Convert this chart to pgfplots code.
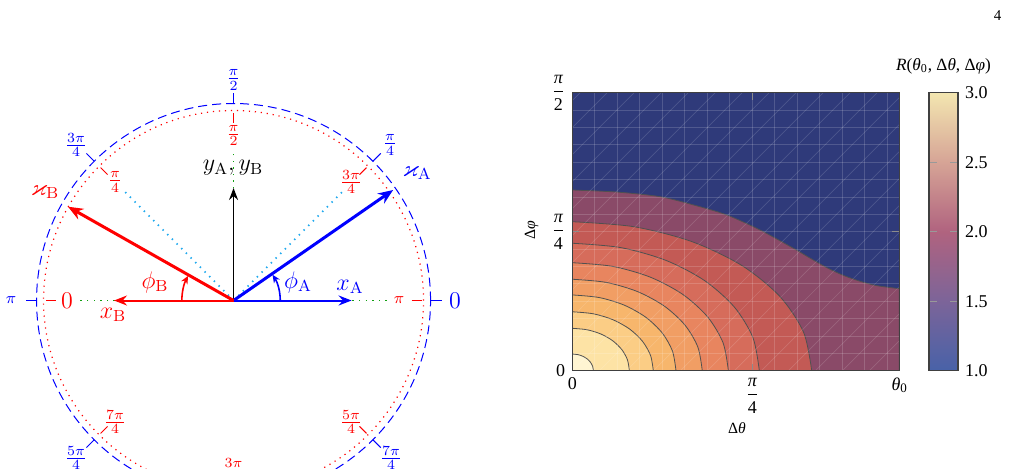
\documentclass[border=0pt]{standalone}
\usepackage{amssymb}
\usepackage{fontspec}
\usepackage{pgfplots}
\pgfplotsset{compat=1.18}
\usetikzlibrary{arrows.meta}
\newfontfamily\timesf{Liberation Serif}
\newcommand\rf{\timesf\fontsize{9}{10.5}\selectfont}
\newcommand\rfs{\timesf\fontsize{7.8}{9}\selectfont}
\newcommand\lf{\fontsize{11.5}{13.5}\selectfont}
\newcommand\lff{\fontsize{10.4}{12}\selectfont}
\newcommand\lpi{\fontsize{8.2}{9}\selectfont}
\newcommand\fr[2]{$\displaystyle\frac{\mbox{\rf #1}}{\mbox{\rf #2}}$}
\definecolor{cblue}{HTML}{2F3A7A}
\definecolor{cpurple}{HTML}{8A4A68}
\definecolor{bA}{HTML}{C35A55}
\definecolor{bB}{HTML}{D66C5B}
\definecolor{bC}{HTML}{E8855F}
\definecolor{bD}{HTML}{F19E64}
\definecolor{bE}{HTML}{F7B66C}
\definecolor{bF}{HTML}{FBCD85}
\definecolor{bG}{HTML}{FDE3A5}
\definecolor{bH}{HTML}{FFF5D2}
\definecolor{cline}{HTML}{505050}
\definecolor{gdot}{HTML}{12A012}
\definecolor{cdot}{HTML}{22AAEE}
\begin{document}
\begin{tikzpicture}[x=0.5pt,y=0.5pt]
\path[use as bounding box] (0,0) rectangle (1010,468);
\node[font=\timesf\fontsize{7.5}{8}\selectfont] at (997.5,452) {4};

% ---------------- left diagram ----------------
\begin{axis}[at={(0pt,0pt)}, anchor=south west, scale only axis,
  width=242.5pt, height=234pt,
  xmin=-233.5, xmax=251.5, ymin=-167.5, ymax=300.5, hide axis]
\draw[blue, line width=0.5pt, dash pattern=on 4.5pt off 2.5pt] (axis cs:0,0) circle[radius=98.5pt];
\draw[red, line width=0.6pt, dash pattern=on 0.6pt off 2.4pt] (axis cs:0,0) circle[radius=95pt];
% blue ticks
\addplot[blue, line width=0.5pt] coordinates {(197,0) (208,0)};
\addplot[blue, line width=0.5pt] coordinates {(139.3,139.3) (147.1,147.1)};
\addplot[blue, line width=0.5pt] coordinates {(0,197) (0,208)};
\addplot[blue, line width=0.5pt] coordinates {(-139.3,139.3) (-147.1,147.1)};
\addplot[blue, line width=0.5pt] coordinates {(-197,0) (-208,0)};
\addplot[blue, line width=0.5pt] coordinates {(-139.3,-139.3) (-147.1,-147.1)};
\addplot[blue, line width=0.5pt] coordinates {(139.3,-139.3) (147.1,-147.1)};
% red ticks
\addplot[red, line width=0.5pt] coordinates {(178,0) (188,0)};
\addplot[red, line width=0.5pt] coordinates {(125.9,125.9) (132.9,132.9)};
\addplot[red, line width=0.5pt] coordinates {(0,178) (0,188)};
\addplot[red, line width=0.5pt] coordinates {(-125.9,125.9) (-132.9,132.9)};
\addplot[red, line width=0.5pt] coordinates {(-178,0) (-188,0)};
\addplot[red, line width=0.5pt] coordinates {(-125.9,-125.9) (-132.9,-132.9)};
\addplot[red, line width=0.5pt] coordinates {(125.9,-125.9) (132.9,-132.9)};
% green and cyan dotted guides
\addplot[gdot, line width=0.9pt, dash pattern=on 0.7pt off 2.6pt] coordinates {(0,0) (155,0)};
\addplot[gdot, line width=0.9pt, dash pattern=on 0.7pt off 2.6pt] coordinates {(0,0) (-155,0)};
\addplot[gdot, line width=0.9pt, dash pattern=on 0.7pt off 2.6pt] coordinates {(0,0) (0,150)};
\addplot[cdot, line width=0.9pt, dash pattern=on 0.7pt off 2.6pt] coordinates {(0,0) (111,111)};
\addplot[cdot, line width=0.9pt, dash pattern=on 0.7pt off 2.6pt] coordinates {(0,0) (-111,111)};
% arrows
\addplot[black, line width=0.8pt, -{Stealth[length=6pt,width=4.5pt,inset=2pt]}] coordinates {(0,0) (0,112.5)};
\addplot[blue, line width=1pt, -{Stealth[length=6.5pt,width=5pt,inset=2.2pt]}] coordinates {(0,0) (118,0)};
\addplot[red, line width=1pt, -{Stealth[length=6.5pt,width=5pt,inset=2.2pt]}] coordinates {(0,0) (-119.5,0)};
\addplot[blue, line width=1.5pt, -{Stealth[length=7.5pt,width=6pt,inset=2.5pt]}] coordinates {(0,0) (159.5,110.5)};
\addplot[red, line width=1.5pt, -{Stealth[length=7.5pt,width=6pt,inset=2.5pt]}] coordinates {(0,0) (-165.5,93.8)};
% angle arcs
\draw[blue, line width=0.8pt, -{Stealth[length=4pt,width=3.5pt,inset=1.3pt]}] (axis cs:46.7,0) arc[start angle=0, end angle=33.5, radius=23.35pt];
\draw[red, line width=0.8pt, -{Stealth[length=4pt,width=3.5pt,inset=1.3pt]}] (axis cs:-51.7,0) arc[start angle=180, end angle=151.5, radius=25.85pt];
% labels
\node[black] at (axis cs:-0.5,132.5) {\lf$y_{\mathrm{A}}, y_{\mathrm{B}}$};
\node[blue] at (axis cs:116.5,13.5) {\lf$x_{\mathrm{A}}$};
\node[red] at (axis cs:-120.5,-14.5) {\lf$x_{\mathrm{B}}$};
\node[blue] at (axis cs:183.5,127.5) {\lf$\varkappa_{\mathrm{A}}$};
\node[red] at (axis cs:-188.5,108.5) {\lf$\varkappa_{\mathrm{B}}$};
\node[blue] at (axis cs:64.5,18.5) {\lf$\phi_{\mathrm{A}}$};
\node[red] at (axis cs:-78.5,18.5) {\lf$\phi_{\mathrm{B}}$};
% blue angle labels
\node[blue] at (axis cs:221.5,0) {\lf$0$};
\node[blue] at (axis cs:156.5,155.5) {\lff$\frac{\pi}{4}$};
\node[blue] at (axis cs:0,220.5) {\lff$\frac{\pi}{2}$};
\node[blue] at (axis cs:-157.5,155.5) {\lff$\frac{3\pi}{4}$};
\node[blue] at (axis cs:-222.5,0) {\lpi$\pi$};
\node[blue] at (axis cs:-157.5,-157.5) {\lff$\frac{5\pi}{4}$};
\node[blue] at (axis cs:157.5,-157.5) {\lff$\frac{7\pi}{4}$};
% red angle labels
\node[red] at (axis cs:-166.5,0) {\lf$0$};
\node[red] at (axis cs:-118.5,118.5) {\lff$\frac{\pi}{4}$};
\node[red] at (axis cs:0,165) {\lff$\frac{\pi}{2}$};
\node[red] at (axis cs:117.5,118.5) {\lff$\frac{3\pi}{4}$};
\node[red] at (axis cs:165.5,0) {\lpi$\pi$};
\node[red] at (axis cs:117.5,-121.5) {\lff$\frac{5\pi}{4}$};
\node[red] at (axis cs:-118.5,-121.5) {\lff$\frac{7\pi}{4}$};
\node[red] at (axis cs:0,-170) {\lff$\frac{3\pi}{2}$};
\end{axis}

% ---------------- right contour plot ----------------
\begin{axis}[at={(286.15pt,48.65pt)}, anchor=south west, scale only axis,
  width=163.5pt, height=139pt,
  xmin=0, xmax=1.8167, ymin=0, ymax=2,
  axis background/.style={fill=cblue},
  axis on top,
  axis line style={black!75, line width=0.6pt},
  xtick={0,1,1.8167}, ytick={0,1,2},
  xticklabels={{\rf 0},{\fr{\itshape π}{4}},{\rf\itshape θ\raisebox{-0.3ex}{\fontsize{6.5}{7}\selectfont\upshape 0}}},
  yticklabels={{\rf 0},{\fr{\itshape π}{4}},{\fr{\itshape π}{2}}},
  tick align=inside, major tick length=3.5pt,
  tick style={black!45, line width=0.5pt},
  minor xtick={0.125,0.25,...,1.75}, minor ytick={0.125,0.25,...,1.875},
  minor tick length=0pt, xminorgrids, yminorgrids,
  minor grid style={white, opacity=0.16, line width=0.35pt},
  unbounded coords=jump,
  colorbar,
  colormap={Rmap}{rgb255=(72,98,168) rgb255=(124,100,153) rgb255=(176,99,127) rgb255=(214,164,150) rgb255=(243,230,176)},
  point meta min=1, point meta max=3,
  colorbar style={
    at={(parent axis.north east)}, anchor=north west, xshift=6.35pt,
    width=14.5pt, height=139pt, scale only axis,
    ytick={1,1.5,2,2.5,3}, yticklabels={1.0,1.5,2.0,2.5,3.0},
    yticklabel style={font=\rf},
    tick align=inside, major tick length=4pt,
    tick style={black!40, line width=0.5pt},
    ytick pos=both, yticklabel pos=right,
    axis line style={black!75, line width=0.6pt}},
]
\addplot[smooth, fill=cpurple, draw=cline, line width=0.4pt] coordinates {
 (0,1.30) (0.25,1.285) (0.487,1.252) (0.672,1.193) (0.857,1.121) (1.042,1.013)
 (1.228,0.881) (1.321,0.81) (1.413,0.742) (1.506,0.686) (1.599,0.643) (1.691,0.612) (1.817,0.59)} \closedcycle;
\addplot[smooth, fill=bA, draw=cline, line width=0.4pt] coordinates {
 (1.33,0) (1.2846,0.2774) (1.1518,0.536) (0.9404,0.758) (0.665,0.9284) (0.3442,1.0355) (0,1.072)} \closedcycle;
\addplot[smooth, fill=bB, draw=cline, line width=0.4pt] coordinates {
 (1.039,0) (1.0036,0.2373) (0.8998,0.4585) (0.7347,0.6484) (0.5195,0.7941) (0.2689,0.8857) (0,0.917)} \closedcycle;
\addplot[smooth, fill=bC, draw=cline, line width=0.4pt] coordinates {
 (0.867,0) (0.8374,0.2011) (0.7508,0.3885) (0.6131,0.5494) (0.4335,0.6729) (0.2244,0.7505) (0,0.777)} \closedcycle;
\addplot[smooth, fill=bD, draw=cline, line width=0.4pt] coordinates {
 (0.722,0) (0.6974,0.1703) (0.6253,0.329) (0.5105,0.4653) (0.361,0.5698) (0.1869,0.6356) (0,0.658)} \closedcycle;
\addplot[smooth, fill=bE, draw=cline, line width=0.4pt] coordinates {
 (0.576,0) (0.5564,0.1410) (0.4988,0.2725) (0.4073,0.3854) (0.288,0.4720) (0.1491,0.5264) (0,0.545)} \closedcycle;
\addplot[smooth, fill=bF, draw=cline, line width=0.4pt] coordinates {
 (0.45,0) (0.4347,0.1097) (0.3897,0.212) (0.3182,0.2998) (0.225,0.3672) (0.1165,0.4095) (0,0.424)} \closedcycle;
\addplot[smooth, fill=bG, draw=cline, line width=0.4pt] coordinates {
 (0.317,0) (0.3062,0.0789) (0.2745,0.1525) (0.2242,0.2157) (0.1585,0.2641) (0.0820,0.2946) (0,0.305)} \closedcycle;
\addplot[smooth, fill=bH, draw=cline, line width=0.4pt] coordinates {
 (0.117,0) (0.1130,0.0311) (0.1013,0.06) (0.0827,0.0849) (0.0585,0.1039) (0.0303,0.1159) (0,0.12)} \closedcycle;
% faint diagonal mesh lines
\addplot[white, opacity=0.14, line width=0.35pt] coordinates {
 (-1.5,0) (0.044,2) (0,inf)
 (-1.35,0) (0.194,2) (0,inf)
 (-1.2,0) (0.344,2) (0,inf)
 (-1.05,0) (0.494,2) (0,inf)
 (-0.9,0) (0.644,2) (0,inf)
 (-0.75,0) (0.794,2) (0,inf)
 (-0.6,0) (0.944,2) (0,inf)
 (-0.45,0) (1.094,2) (0,inf)
 (-0.3,0) (1.244,2) (0,inf)
 (-0.15,0) (1.394,2) (0,inf)
 (0,0) (1.544,2) (0,inf)
 (0.15,0) (1.694,2) (0,inf)
 (0.3,0) (1.844,2) (0,inf)
 (0.45,0) (1.994,2) (0,inf)
 (0.6,0) (2.144,2) (0,inf)
 (0.75,0) (2.294,2) (0,inf)
 (0.9,0) (2.444,2) (0,inf)
 (1.05,0) (2.594,2) (0,inf)
 (1.2,0) (2.744,2) (0,inf)
 (1.35,0) (2.894,2) (0,inf)
 (1.5,0) (3.044,2) (0,inf)
 (1.65,0) (3.194,2)};
\end{axis}
\node[font=\rfs] at (737,40) {Δ\textit{θ}};
\node[font=\rfs, rotate=90] at (531.7,238) {Δ\textit{φ}};
\node[font=\timesf\fontsize{8.6}{10}\selectfont] at (943.5,402) {\textit{R}(\textit{θ}\textsubscript{0}, Δ\textit{θ}, Δ\textit{φ})};
\end{tikzpicture}
\end{document}
